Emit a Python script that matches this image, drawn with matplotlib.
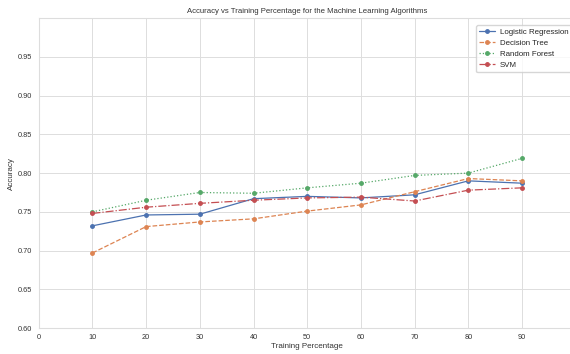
import matplotlib
matplotlib.use("Agg")
import matplotlib.pyplot as plt
import seaborn as sns

sns.set_theme(style="whitegrid")
plt.rcParams['font.family'] = ['Liberation Sans', 'DejaVu Sans']

training_pct = [10, 20, 30, 40, 50, 60, 70, 80, 90]
logistic = [0.732, 0.746, 0.747, 0.767, 0.770, 0.768, 0.772, 0.790, 0.787]
decision_tree = [0.697, 0.731, 0.737, 0.741, 0.751, 0.759, 0.776, 0.793, 0.790]
random_forest = [0.750, 0.765, 0.775, 0.774, 0.781, 0.787, 0.797, 0.800, 0.819]
svm = [0.748, 0.756, 0.761, 0.765, 0.768, 0.769, 0.764, 0.778, 0.781]
labels = ["Logistic Regression", "Decision Tree", "Random Forest", "SVM"]
xticks = [0, 10, 20, 30, 40, 50, 60, 70, 80, 90]
yticks = [0.60, 0.65, 0.70, 0.75, 0.80, 0.85, 0.90, 0.95]

colors = sns.color_palette("deep")[:4]
styles = ["-", "--", ":", "-."]

fig = plt.figure(figsize=(5.7, 3.54), dpi=100)
ax = fig.add_axes([0.068, 0.073, 0.942, 0.876])

for series, lab, c, ls in zip([logistic, decision_tree, random_forest, svm], labels, colors, styles):
    ax.plot(training_pct, series, linestyle=ls, marker="o", markersize=2.5,
            color=c, linewidth=0.9, label=lab)

ax.set_xlim(0, 100)
ax.set_ylim(0.60, 1.0)
ax.set_xticks(xticks)
ax.set_yticks(yticks)
ax.set_yticklabels([f"{v:.2f}" for v in yticks])
ax.tick_params(axis="x", labelsize=5.3, colors="#333333", length=0, pad=4.5)
ax.tick_params(axis="y", labelsize=5.3, colors="#333333", length=0, pad=5)
ax.set_xlabel("Training Percentage", fontsize=5.8, labelpad=1.5, color="#333333")
ax.set_ylabel("Accuracy", fontsize=5.8, labelpad=1.5, color="#333333")
ax.set_title("Accuracy vs Training Percentage for the Machine Learning Algorithms",
             fontsize=5.6, pad=3.5, color="#333333")
ax.grid(True, color="#dddddd", linewidth=0.7)
for s in ax.spines.values():
    s.set_color("#dddddd")
    s.set_linewidth(0.8)
ax.legend(loc="upper right", fontsize=5.7, frameon=True, borderpad=0.4,
          labelspacing=0.45, handlelength=2.0, handletextpad=0.6,
          bbox_to_anchor=(1.0, 0.99))

fig.savefig("out.png", dpi=100)
